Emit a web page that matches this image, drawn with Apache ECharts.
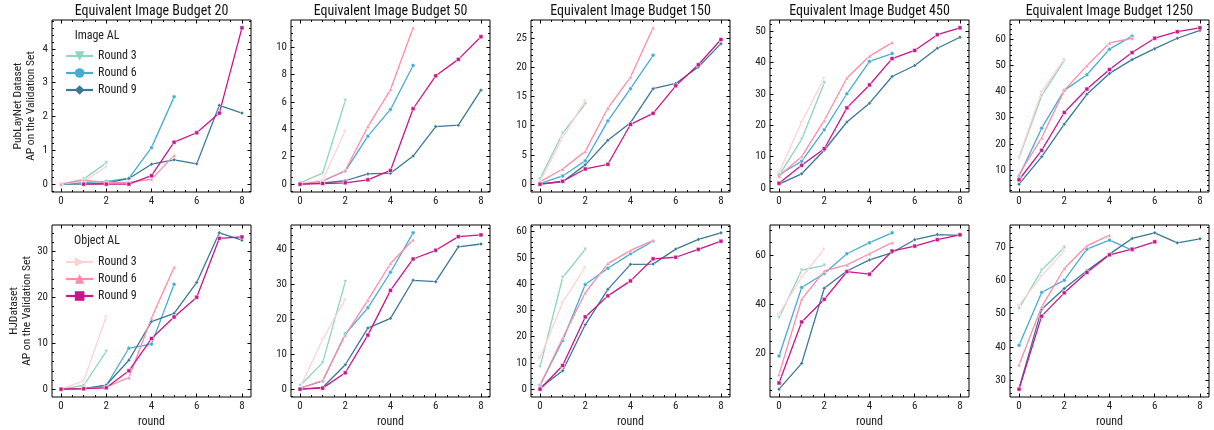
<!DOCTYPE html>
<html>
<head>
<meta charset="utf-8">
<script src="https://cdn.jsdelivr.net/npm/echarts@6/dist/echarts.min.js"></script>
<style>
  html, body { margin: 0; padding: 0; background: #fff; }
  #chart { width: 1214px; height: 430px; }
</style>
</head>
<body>
<div id="chart"></div>
<script>
const budgets = [20, 50, 150, 450, 1250]
const rounds = [0, 1, 2, 3, 4, 5, 6, 7, 8]
const xTicks = [0, 2, 4, 6, 8]
const pubYTicks = [[0, 1, 2, 3, 4], [0, 2, 4, 6, 8, 10], [0, 5, 10, 15, 20, 25], [0, 10, 20, 30, 40, 50], [10, 20, 30, 40, 50, 60]]
const hjYTicks = [[0, 10, 20, 30], [0, 10, 20, 30, 40], [0, 10, 20, 30, 40, 50, 60], [20, 40, 60], [30, 40, 50, 60, 70]]

// PubLayNet, one row per budget, values by round
const pubImageR3 = [
  [0, 0.15, 0.63],
  [0.1, 0.8, 6.1],
  [0.9, 8.7, 13.7],
  [4, 15.5, 33.5],
  [14.5, 38.5, 52]
]
const pubImageR6 = [
  [0, 0.05, 0.08, 0.17, 1.08, 2.58],
  [0, 0.25, 0.95, 3.5, 5.45, 8.65],
  [0.1, 1.4, 4.0, 10.8, 16.3, 22],
  [4.2, 8.5, 18.5, 30, 40.3, 42.8],
  [7.5, 26, 40.5, 46.5, 56.3, 61.3]
]
const pubImageR9 = [
  [0, 0, 0.03, 0.17, 0.59, 0.72, 0.6, 2.33, 2.1],
  [0, 0.1, 0.25, 0.75, 0.8, 2.05, 4.2, 4.3, 6.85],
  [0, 0.4, 3.3, 7.5, 10.5, 16.3, 17.2, 20, 24],
  [1.2, 4.5, 12, 21, 27, 35.5, 39, 44.5, 48],
  [4.5, 15, 27.5, 39, 47, 52.3, 56.5, 60.5, 63.5]
]
const pubObjectR3 = [
  [0, 0.08, 0.52],
  [0.05, 0.3, 3.9],
  [0.5, 8.0, 14.3],
  [5, 21, 35],
  [15, 40, 52.5]
]
const pubObjectR6 = [
  [0, 0.12, 0.05, 0.05, 0.15, 0.85],
  [0, 0.2, 1.0, 4.2, 6.9, 11.4],
  [0.4, 2.6, 5.6, 13, 18.3, 26.7],
  [3.8, 10, 21.5, 35, 42, 46.3],
  [8.3, 22.3, 40.5, 50, 58.7, 60.5]
]
const pubObjectR9 = [
  [null, 0, 0, 0, 0.25, 1.24, 1.52, 2.1, 4.62],
  [0, 0.05, 0.1, 0.32, 1.0, 5.5, 7.9, 9.1, 10.75],
  [0, 0.5, 2.6, 3.4, 10.2, 12.1, 16.8, 20.4, 24.7],
  [1.5, 7.2, 12.5, 25.5, 32.8, 41.2, 43.8, 48.8, 51],
  [6.2, 17.5, 32, 41, 48.5, 55, 60.5, 63, 64.5]
]

// HJDataset
const hjImageR3 = [
  [0, 0.8, 8.2],
  [1.0, 7.6, 30.8],
  [8.5, 42.5, 53.2],
  [34.5, 53.8, 55.8],
  [51.5, 63, 69.8]
]
const hjImageR6 = [
  [0, 0.1, 0.8, 8.9, 9.8, 22.8],
  [0.3, 2.3, 15.8, 23.3, 33.5, 44.8],
  [1.5, 18.5, 39.8, 46, 51.5, 56.3],
  [19, 46.8, 52.5, 60.5, 65, 69],
  [40.5, 56.3, 60, 69.3, 72, 69]
]
const hjImageR9 = [
  [0, 0.1, 0.9, 6.3, 14.7, 16.5, 23.2, 34, 32.4],
  [0, 0.5, 7, 17.5, 20.3, 31.2, 30.8, 40.8, 41.6],
  [0.5, 7, 24.5, 38, 47.5, 47.6, 53.3, 57, 59.5],
  [5.5, 16, 46.5, 53.5, 58, 61, 66.2, 68.3, 68],
  [27.5, 51.3, 57.5, 62.8, 67.8, 72.5, 74.2, 71.2, 72.4]
]
const hjObjectR3 = [
  [0, 1.8, 15.8],
  [0.5, 14.3, 25.8],
  [12, 33, 46.5],
  [36, 51, 62.5],
  [52.5, 61.3, 68.8]
]
const hjObjectR6 = [
  [0, 0.1, 0.5, 2.5, 15.5, 26.5],
  [0.2, 2.5, 15.5, 25.5, 36, 42.8],
  [1.5, 19.5, 36.7, 47.8, 52.8, 56.6],
  [11.5, 42, 53.5, 56, 60.5, 65],
  [34.6, 52, 63.5, 70.3, 73.5]
]
const hjObjectR9 = [
  [0, 0.1, 0.3, 4.0, 11, 15.7, 20, 32.8, 33.1],
  [0, 0.3, 4.7, 15.5, 28.3, 37.3, 39.8, 43.7, 44.2],
  [0, 9, 27.5, 35.5, 41.2, 49.6, 50.2, 53.2, 56.3],
  [8, 32.8, 42, 53.2, 52.2, 61.6, 63.6, 66.2, 68.2],
  [27.3, 49.2, 56.2, 62.3, 67.6, 69.3, 71.5]
]

const font = "'Roboto Condensed', 'Liberation Sans Narrow', 'DejaVu Sans Condensed', Roboto, sans-serif"

const lineDefs = [
  { name: 'Image AL Round 3', color: '#8fd4bf', symbol: 'triangle', rotate: 180 },
  { name: 'Image AL Round 6', color: '#45aed0', symbol: 'circle', rotate: 0 },
  { name: 'Image AL Round 9', color: '#3a7896', symbol: 'diamond', rotate: 0 },
  { name: 'Object AL Round 3', color: '#fdd2d2', symbol: 'triangle', rotate: -90 },
  { name: 'Object AL Round 6', color: '#fd8cab', symbol: 'triangle', rotate: 0 },
  { name: 'Object AL Round 9', color: '#c8168b', symbol: 'rect', rotate: 0 }
]

const rows = [
  { label: 'PubLayNet Dataset\nAP on the Validation Set', ticks: pubYTicks,
    data: [pubImageR3, pubImageR6, pubImageR9, pubObjectR3, pubObjectR6, pubObjectR9] },
  { label: 'HJDataset\nAP on the Validation Set', ticks: hjYTicks,
    data: [hjImageR3, hjImageR6, hjImageR9, hjObjectR3, hjObjectR6, hjObjectR9] }
]

const gridLefts = [52, 291, 531, 770, 1010]
const gridWidth = 199
const rowTops = [20, 225]
const rowHeight = 172
const xMin = -0.4
const xMax = 8.4

function minorValues(majors, lo, hi) {
  const step = majors[1] - majors[0]
  const mant = step / Math.pow(10, Math.floor(Math.log10(step)))
  const ms = step / ([1, 5, 10].includes(Math.round(mant)) ? 5 : 4)
  const out = []
  for (let k = Math.ceil(lo / ms); k * ms <= hi; k++) {
    const v = +(k * ms).toFixed(6)
    if (!majors.some(m => Math.abs(m - v) < 1e-6)) out.push(v)
  }
  return out
}

function axis(gi, pos, min, max, values, len, labels, extra) {
  return Object.assign({
    type: 'value', gridIndex: gi, position: pos, min: min, max: max,
    axisLine: { show: false, onZero: false },
    splitLine: { show: false },
    axisTick: { show: true, inside: true, length: len, customValues: values, lineStyle: { color: '#000', width: 1 } },
    axisLabel: labels
      ? { show: true, customValues: values, margin: 4, fontSize: 11, color: '#222', fontFamily: font }
      : { show: false }
  }, extra || {})
}

const grids = []
const xAxes = []
const yAxes = []
const series = []
const graphics = []

rows.forEach((row, r) => {
  budgets.forEach((b, c) => {
    const gi = grids.length
    grids.push({
      left: gridLefts[c], top: rowTops[r], width: gridWidth, height: rowHeight,
      show: true, borderColor: '#000', borderWidth: 1, backgroundColor: 'transparent',
      outerBoundsMode: 'none'
    })
    let lo = Infinity, hi = -Infinity
    row.data.forEach(s => s[c].forEach(v => { if (v != null) { lo = Math.min(lo, v); hi = Math.max(hi, v) } }))
    const pad = (hi - lo) * 0.05
    const yMin = lo - pad, yMax = hi + pad
    const yMaj = row.ticks[c]
    const yMin2 = minorValues(yMaj, yMin, yMax)
    const xMin2 = minorValues(xTicks, xMin, xMax)

    const xi = xAxes.length
    const xName = r === 1
      ? { name: 'round', nameLocation: 'middle', nameGap: 19, nameTextStyle: { fontSize: 12, color: '#222', fontFamily: font } }
      : {}
    xAxes.push(axis(gi, 'bottom', xMin, xMax, xTicks, 3.5, true, xName))
    xAxes.push(axis(gi, 'bottom', xMin, xMax, xMin2, 2, false))
    xAxes.push(axis(gi, 'top', xMin, xMax, xTicks, 3.5, false))
    xAxes.push(axis(gi, 'top', xMin, xMax, xMin2, 2, false))

    const yi = yAxes.length
    const yName = c === 0
      ? { name: row.label, nameLocation: 'middle', nameGap: 14, nameTextStyle: { fontSize: 11.5, color: '#222', fontFamily: font, lineHeight: 13 } }
      : {}
    yAxes.push(axis(gi, 'left', yMin, yMax, yMaj, 3.5, true, yName))
    yAxes.push(axis(gi, 'left', yMin, yMax, yMin2, 2, false))
    yAxes.push(axis(gi, 'right', yMin, yMax, yMaj, 3.5, false))
    yAxes.push(axis(gi, 'right', yMin, yMax, yMin2, 2, false))

    lineDefs.forEach((d, k) => {
      series.push({
        type: 'line', name: d.name, xAxisIndex: xi, yAxisIndex: yi,
        data: row.data[k][c].map((v, i) => [rounds[i], v == null ? '-' : v]),
        symbol: d.symbol, symbolRotate: d.rotate, symbolSize: 4,
        showSymbol: true,
        lineStyle: { color: d.color, width: 1.3 },
        itemStyle: { color: d.color, borderColor: '#fff', borderWidth: 0.5 },
        emphasis: { disabled: true }
      })
    })

    if (r === 0) {
      graphics.push({
        type: 'text', x: gridLefts[c] + gridWidth / 2, y: 11,
        style: { text: 'Equivalent Image Budget ' + b, align: 'center', verticalAlign: 'middle', font: '14px ' + font, fill: '#111' }
      })
    }
  })
})

graphics.push({
  type: 'text', x: 97, y: 36,
  style: { text: 'Image AL', align: 'center', verticalAlign: 'middle', font: '12px ' + font, fill: '#222' }
})
graphics.push({
  type: 'text', x: 97, y: 241,
  style: { text: 'Object AL', align: 'center', verticalAlign: 'middle', font: '12px ' + font, fill: '#222' }
})

const legendBase = {
  orient: 'vertical', left: 60, itemGap: 5, itemWidth: 27, itemHeight: 12,
  textStyle: { fontSize: 12, color: '#222', fontFamily: font },
  lineStyle: { width: 2.2 },
  itemStyle: { borderWidth: 0 },
  formatter: name => name.replace(/^(Image|Object) AL /, ''),
  selectedMode: false
}

const myChart = echarts.init(document.getElementById('chart'))
const option = {
  animation: false,
  textStyle: { fontFamily: font },
  grid: grids,
  xAxis: xAxes,
  yAxis: yAxes,
  legend: [
    Object.assign({}, legendBase, { top: 45, data: lineDefs.slice(0, 3).map(d => d.name) }),
    Object.assign({}, legendBase, { top: 251, data: lineDefs.slice(3).map(d => d.name) })
  ],
  graphic: graphics,
  series: series
}
myChart.setOption(option)
</script>
</body>
</html>
